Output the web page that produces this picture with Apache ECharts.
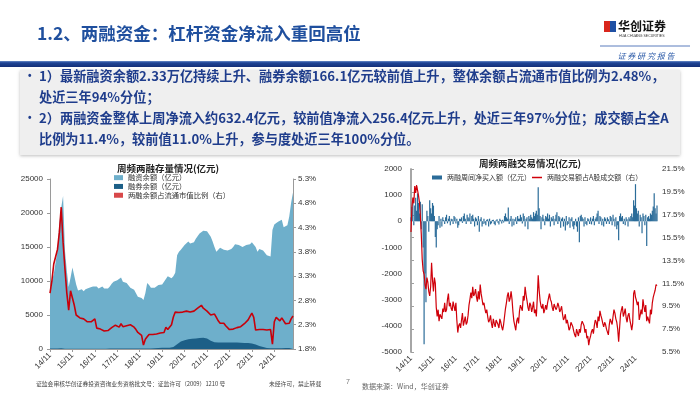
<!DOCTYPE html>
<html><head><meta charset="utf-8">
<script src="https://cdn.jsdelivr.net/npm/echarts@6/dist/echarts.min.js"></script>
<style>html,body{margin:0;padding:0;background:#fff}#c{width:700px;height:394px}</style>
</head><body><div id="c"></div>
<script>
// ---------- DATA ----------
const yearLabels = ['14/11','15/11','16/11','17/11','18/11','19/11','20/11','21/11','22/11','23/11','24/11'];
// monthly, starting 2014/11
const marginFinance = [7700,10000,11000,11200,14500,18500,20800,22500,14500,11500,
 9100,10500,12000,11800,9500,8600,8700,8800,8500,8800,
 8800,9000,9000,9200,9400,9200,8900,9000,9200,8900,
 8700,8900,9200,9600,9900,9900,10100,10000,10500,9900,
 9700,9700,9600,9000,8800,8700,8600,7700,7500,7500,
 7200,8200,9700,9400,9000,8900,9000,9200,9400,9300,
 9500,9900,10300,10700,10500,10400,10700,11200,13800,14300,
 14600,14800,15300,15500,15800,15500,15600,15700,16200,16400,
 17000,17200,17400,17200,17300,16900,16500,15800,15000,14300,
 14600,14900,14800,14600,14400,14500,14600,14700,15000,15400,
 15200,15300,15200,15000,15200,15300,15500,15400,15700,15600,
 15000,14300,14700,14800,14500,14300,13800,13600,13600,17500,
 18300,18400,18700,18900,19000,17900,17900,18200,19500,21500,
 23000];
const marginShort = [75,65,70,75,85,95,95,90,40,30,
 25,25,25,25,25,25,25,30,35,40,
 40,35,40,45,50,55,55,50,50,55,
 55,60,65,65,70,75,80,85,85,85,
 80,75,75,70,65,65,70,65,65,60,
 60,70,80,85,90,100,110,130,150,160,
 170,180,190,200,200,250,300,450,700,900,
 1100,1200,1300,1400,1450,1450,1500,1500,1550,1550,
 1600,1650,1650,1600,1550,1400,1200,1100,1000,950,
 950,950,950,950,950,950,950,950,950,950,
 950,950,930,930,900,900,870,850,800,750,
 650,550,450,350,300,200,130,110,110,110,
 110,115,120,120,125,130,130,135,135,140,
 140];
const stockRatio = [2.95,3.2,3.55,3.7,3.85,4.2,4.72,4.0,3.45,2.95,
 2.6,3.0,2.85,2.7,2.5,2.46,2.44,2.4,2.42,2.38,
 2.36,2.33,2.36,2.4,2.42,2.23,2.24,2.21,2.19,2.17,
 2.13,2.18,2.22,2.24,2.27,2.29,2.3,2.25,2.32,2.26,
 2.3,2.28,2.24,2.3,2.33,2.25,2.2,2.14,2.13,2.08,
 1.88,2.0,2.05,2.1,2.08,2.1,2.09,2.11,2.1,2.13,
 2.15,2.14,2.25,2.2,2.24,2.3,2.46,2.56,2.54,2.55,
 2.52,2.56,2.55,2.58,2.56,2.56,2.6,2.58,2.62,2.64,
 2.66,2.7,2.64,2.6,2.58,2.55,2.5,2.5,2.52,2.45,
 2.38,2.33,2.35,2.33,2.28,2.25,2.2,2.19,2.21,2.22,
 2.24,2.2,2.26,2.29,2.32,2.29,2.4,2.47,2.54,2.45,
 2.19,2.22,2.2,2.18,2.2,2.21,2.19,2.22,2.2,1.9,
 2.36,2.45,2.42,2.38,2.44,2.42,2.32,2.3,2.33,2.42,
 2.48];
// half-monthly, starting 2014/11
const netBuy = [150,550, 700,-150, 600,900, 400,1070, 700,300, 750,-300, 650,-1000, -4700,-2000, -3100,400, 200,-400,
 800,500, 300,700, 600,200, -600,-1000, -300,-150, 200,-250, 100,-200, 150,50, -100,150, 250,-80,
 100,200, -150,100, 80,-100, 200,150, -80,100, -250,-150, 100,80, 150,-60, 200,300, 100,-100,
 250,150, 120,300, -100,200, 250,100, -200,150, 100,-150, 200,-400, 80,150, -200,-100, 100,-80,
 -150,60, 80,-200, 100,-120, -80,50, 60,-100, -150,40, 80,-60, -120,100, 50,-80, 60,-50,
 200,300, 150,100, 530,-100, 100,200, -200,100, -150,80, 150,-100, 200,100, 100,250, 150,-80,
 300,200, -200,100, 150,-300, 200,100, 250,150, 100,350, 200,300, 400,250, 1300,500, 200,-300,
 150,250, 100,-150, 200,150, 300,100, 250,-200, 150,100, 200,-150, 100,250, 350,-100, 200,150,
 -250,100, 150,-200, 100,-350, 200,-150, -100,150, -250,100, 150,-200, -300,-150, 100,-200, -400,150,
 -800,200, 250,150, 100,-200, 150,-100, -150,120, 80,-100, 150,-120, 100,200, -150,100, 150,300,
 400,-100, 200,150, -150,100, -200,150, 100,-100, 150,80, -100,200, 150,-150, 250,100, -200,150,
 -300,-150, -730,200, 300,150, 200,-100, 100,-150, 150,80, -200,150, 100,200, 300,150, 800,600,
 1420,500, 300,400, -200,250, 150,-460, 300,200, -150,250, -950,150, 200,100, 300,250, 400,570,
 1070,500, 300,600];
// half-monthly, starting 2014/11
const tradeShare = [16.0,18.2, 19.0,18.5, 20.0,19.4, 20.1,20.0, 19.2,18.6, 17.4,15.8, 13.6,12.6, 12.3,11.4, 11.0,12.0, 11.6,10.8,
 10.4,11.2, 13.3,11.8, 10.8,12.0, 11.5,9.4, 8.6,9.2, 8.2,8.8, 8.9,8.4, 9.3,9.0, 9.8,9.0, 9.2,10.1,
 10.6,9.5, 9.8,9.3, 9.1,9.9, 9.5,9.1, 9.8,8.3, 7.2,7.8, 8.0,7.6, 8.3,8.9, 7.8,8.2, 8.6,7.9,
 8.1,8.7, 9.6,10.1, 10.7,10.2, 11.2,10.4, 10.6,11.0, 10.3,9.9, 10.8,10.1, 11.4,10.6, 10.5,9.6, 9.8,9.3,
 8.9,9.2, 8.6,8.1, 8.3,8.7, 8.0,7.6, 8.4,8.0, 7.7,8.3, 8.2,7.9, 7.6,8.4, 8.1,7.7, 7.4,7.9,
 8.6,9.3, 9.8,10.4, 10.7,9.9, 10.2,10.8, 10.1,9.0, 8.2,7.8, 7.4,8.2, 8.5,8.0, 9.1,9.6, 9.7,9.1,
 10.4,10.0, 11.2,10.5, 10.0,9.4, 9.1,9.8, 9.6,9.0, 9.4,9.9, 8.9,9.2, 8.6,10.2, 12.2,10.9, 10.0,9.5,
 9.3,9.7, 8.9,9.2, 9.6,9.2, 9.8,10.2, 10.6,10.1, 9.9,9.4, 9.1,9.7, 9.6,9.2, 9.4,9.8, 9.5,9.0,
 9.2,9.5, 8.8,8.3, 8.5,8.8, 8.0,8.3, 7.9,7.4, 7.6,8.1, 8.0,7.7, 7.3,7.0, 6.8,7.5, 7.2,6.9,
 7.5,7.2, 7.9,8.2, 8.3,7.8, 7.2,7.5, 6.7,6.9, 6.1,6.6, 6.9,7.3, 7.5,7.1, 7.8,8.3, 8.1,7.6,
 8.6,8.2, 9.1,8.7, 8.4,8.0, 7.7,8.1, 7.9,7.5, 7.4,7.0, 7.9,8.4, 8.3,7.9, 8.6,9.2, 8.9,8.4,
 8.1,7.5, 6.4,7.6, 8.8,9.2, 9.5,8.6, 8.9,9.3, 8.5,8.1, 8.7,8.9, 8.3,7.9, 7.4,8.0, 10.6,10.9,
 10.3,10.0, 9.6,9.9, 8.3,8.7, 9.2,8.8, 10.1,9.5, 9.0,9.6, 8.2,8.6, 8.5,8.0, 9.2,8.8, 9.8,10.3,
 10.6,10.9, 11.4,11.3];
const ratioTicks = [1.8,2.3,2.8,3.3,3.8,4.3,4.8,5.3];
const shareTicks = [5.5,7.5,9.5,11.5,13.5,15.5,17.5,19.5,21.5];

// ---------- BUILD ----------
const monthly = arr => arr.map((v, i) => [i, v]);
const halfMonthly = arr => arr.map((v, i) => [i / 2, v]);
const yearTickVals = yearLabels.map((_, i) => i * 12);
const CJK = '"Noto Sans CJK SC", sans-serif';
const LAT = '"Liberation Sans", Arial, sans-serif';
const axisLab = {fontSize: 8, color: '#333', fontFamily: LAT};
const plain = v => String(v);
const legText = {fontSize: 7, color: '#333', fontFamily: CJK};

const chart = echarts.init(document.getElementById('c'), null, {renderer: 'canvas'});

function xAxisCfg(grid, max, showLine) {
  return {
    type: 'value', gridIndex: grid, min: 0, max: max, interval: 12,
    splitLine: {show: false},
    axisLine: {show: showLine, onZero: false, lineStyle: {color: '#9a9a9a'}},
    axisTick: {show: showLine, length: 3, customValues: yearTickVals, lineStyle: {color: '#9a9a9a'}},
    axisLabel: Object.assign({}, axisLab, {rotate: 45, margin: 5, customValues: yearTickVals,
      formatter: v => yearLabels[Math.round(v / 12)] || ''})
  };
}

const option = {
  animation: false,
  backgroundColor: '#fff',
  grid: [
    {left: 50, top: 179, width: 243, height: 170},
    {left: 411, top: 169, width: 246, height: 183}
  ],
  xAxis: [xAxisCfg(0, 130, true), xAxisCfg(1, 131.5, false)],
  yAxis: [
    {type: 'value', gridIndex: 0, min: 0, max: 25000, interval: 5000, splitLine: {show: false},
     axisLine: {show: true, lineStyle: {color: '#9a9a9a'}}, axisTick: {show: true, length: 3},
     axisLabel: Object.assign({}, axisLab, {margin: 7, formatter: plain})},
    {type: 'value', gridIndex: 0, position: 'right', min: 1.8, max: 5.3, splitLine: {show: false},
     axisLine: {show: true, lineStyle: {color: '#9a9a9a'}},
     axisTick: {show: true, length: 3, customValues: ratioTicks},
     axisLabel: Object.assign({}, axisLab, {margin: 5, customValues: ratioTicks, formatter: v => v.toFixed(1) + '%'})},
    {type: 'value', gridIndex: 1, min: -5000, max: 2000, interval: 1000, splitLine: {show: false},
     axisLine: {show: true, onZero: false, lineStyle: {color: '#a0a0a0', width: 1.5}}, axisTick: {show: false},
     axisLabel: Object.assign({}, axisLab, {margin: 9, formatter: plain})},
    {type: 'value', gridIndex: 1, position: 'right', min: 5.5, max: 21.5, splitLine: {show: false},
     axisLine: {show: true, lineStyle: {color: '#a0a0a0', width: 1.5}},
     axisTick: {show: true, length: 3, customValues: shareTicks},
     axisLabel: Object.assign({}, axisLab, {margin: 5, customValues: shareTicks, formatter: v => v.toFixed(1) + '%'})}
  ],
  legend: [
    {data: ['融资余额（亿元）', '融券余额（亿元）', '两融余额占流通市值比例（右）'],
     orient: 'vertical', left: 114, top: 174, itemWidth: 9, itemHeight: 5, itemGap: 1.5, icon: 'rect', padding: 0,
     textStyle: Object.assign({}, legText, {fontSize: 7.3})},
    {data: ['两融周间净买入额（亿元）'], icon: 'rect',
     left: 432, top: 174, itemWidth: 10, itemHeight: 4, padding: 0, textStyle: legText},
    {data: ['两融交易额占A股成交额（右）'], icon: 'rect',
     left: 532, top: 174, itemWidth: 10, itemHeight: 1.5, padding: 0, textStyle: legText}
  ],
  series: [
    {name: '融资余额（亿元）', type: 'line', xAxisIndex: 0, yAxisIndex: 0, data: monthly(marginFinance),
     symbol: 'none', lineStyle: {width: 0}, itemStyle: {color: '#6eafcb'},
     areaStyle: {color: '#6eafcb', opacity: 1}, z: 1},
    {name: '融券余额（亿元）', type: 'line', xAxisIndex: 0, yAxisIndex: 0, data: monthly(marginShort),
     symbol: 'none', lineStyle: {width: 0}, itemStyle: {color: '#1c5f87'},
     areaStyle: {color: '#1c5f87', opacity: 1}, z: 2},
    {name: '两融余额占流通市值比例（右）', type: 'line', xAxisIndex: 0, yAxisIndex: 1, data: monthly(stockRatio),
     symbol: 'none', lineStyle: {width: 1.6, color: '#c8000a'}, itemStyle: {color: '#d8484a'}, z: 3},
    {name: '两融周间净买入额（亿元）', type: 'bar', xAxisIndex: 1, yAxisIndex: 2, data: halfMonthly(netBuy),
     barWidth: 1.2, itemStyle: {color: '#2b6c99'}, z: 2},
    {name: '两融交易额占A股成交额（右）', type: 'line', xAxisIndex: 1, yAxisIndex: 3, data: halfMonthly(tradeShare),
     symbol: 'none', lineStyle: {width: 1.2, color: '#d0000a'}, itemStyle: {color: '#d0000a'}, z: 3}
  ],
  graphic: [
    // header
    {type: 'text', x: 37, y: 33, style: {text: '1.2、两融资金：杠杆资金净流入重回高位', font: 'bold 17.5px ' + CJK, fill: '#1f4f9e', verticalAlign: 'middle'}},
    {type: 'rect', shape: {x: 604, y: 21, width: 6, height: 11}, style: {fill: '#d9261c'}},
    {type: 'rect', shape: {x: 610, y: 21, width: 6, height: 11}, style: {fill: '#1f50a3'}},
    {type: 'text', x: 618, y: 26, style: {text: '华创证券', font: 'bold 12px ' + CJK, fill: '#111', verticalAlign: 'middle'}},
    {type: 'text', x: 619, y: 36, style: {text: 'HUA CHUANG SECURITIES', font: '3.5px ' + LAT, fill: '#333', verticalAlign: 'middle'}},
    {type: 'line', shape: {x1: 600, y1: 46, x2: 690, y2: 46}, style: {stroke: '#5a7dbd', lineWidth: 1}},
    {type: 'text', x: 646, y: 56, style: {text: '证 券 研 究 报 告', font: 'italic 8px ' + CJK, fill: '#2b5aa8', align: 'center', verticalAlign: 'middle'}},
    {type: 'rect', shape: {x: 0, y: 61, width: 700, height: 6},
     style: {fill: new echarts.graphic.LinearGradient(0, 0, 0, 1, [{offset: 0, color: '#6a8cc8'}, {offset: 0.3, color: '#1f4596'}, {offset: 1, color: '#142f78'}])}},
    // text box
    {type: 'rect', shape: {x: 20, y: 70, width: 660, height: 85}, style: {fill: '#efefef', shadowBlur: 3, shadowColor: 'rgba(0,0,0,0.25)', shadowOffsetY: 1}},
    {type: 'text', x: 28, y: 76, style: {text: '•', font: 'bold 10px ' + LAT, fill: '#1f3d8c', verticalAlign: 'middle'}},
    {type: 'text', x: 28, y: 118, style: {text: '•', font: 'bold 10px ' + LAT, fill: '#1f3d8c', verticalAlign: 'middle'}},
    {type: 'text', x: 39, y: 76, style: {text: '1）最新融资余额2.33万亿持续上升、融券余额166.1亿元较前值上升，整体余额占流通市值比例为2.48%，', font: 'bold 13.2px ' + CJK, fill: '#1f3d8c', verticalAlign: 'middle'}},
    {type: 'text', x: 39, y: 97, style: {text: '处近三年94%分位；', font: 'bold 13.2px ' + CJK, fill: '#1f3d8c', verticalAlign: 'middle'}},
    {type: 'text', x: 39, y: 118, style: {text: '2）两融资金整体上周净流入约632.4亿元，较前值净流入256.4亿元上升，处近三年97%分位；成交额占全A', font: 'bold 13.2px ' + CJK, fill: '#1f3d8c', verticalAlign: 'middle'}},
    {type: 'text', x: 39, y: 139, style: {text: '比例为11.4%，较前值11.0%上升，参与度处近三年100%分位。', font: 'bold 13.2px ' + CJK, fill: '#1f3d8c', verticalAlign: 'middle'}},
    // chart titles
    {type: 'text', x: 168, y: 168, style: {text: '周频两融存量情况(亿元)', font: 'bold 9.5px ' + CJK, fill: '#222', align: 'center', verticalAlign: 'middle'}},
    {type: 'text', x: 530, y: 163, style: {text: '周频两融交易情况(亿元)', font: 'bold 9.5px ' + CJK, fill: '#222', align: 'center', verticalAlign: 'middle'}},
    // footer
    {type: 'text', x: 36, y: 384, style: {text: '证监会审核华创证券投资咨询业务资格批文号：证监许可（2009）1210 号', font: '5.8px ' + CJK, fill: '#444', verticalAlign: 'middle'}},
    {type: 'text', x: 269, y: 384, style: {text: '未经许可，禁止转载', font: '5.8px ' + CJK, fill: '#444', verticalAlign: 'middle'}},
    {type: 'text', x: 346, y: 382, style: {text: '7', font: '7px ' + LAT, fill: '#777', verticalAlign: 'middle'}},
    {type: 'text', x: 362, y: 386, style: {text: '数据来源：Wind，华创证券', font: '7px ' + CJK, fill: '#666', verticalAlign: 'middle'}}
  ]
};
chart.setOption(option);
</script></body></html>
